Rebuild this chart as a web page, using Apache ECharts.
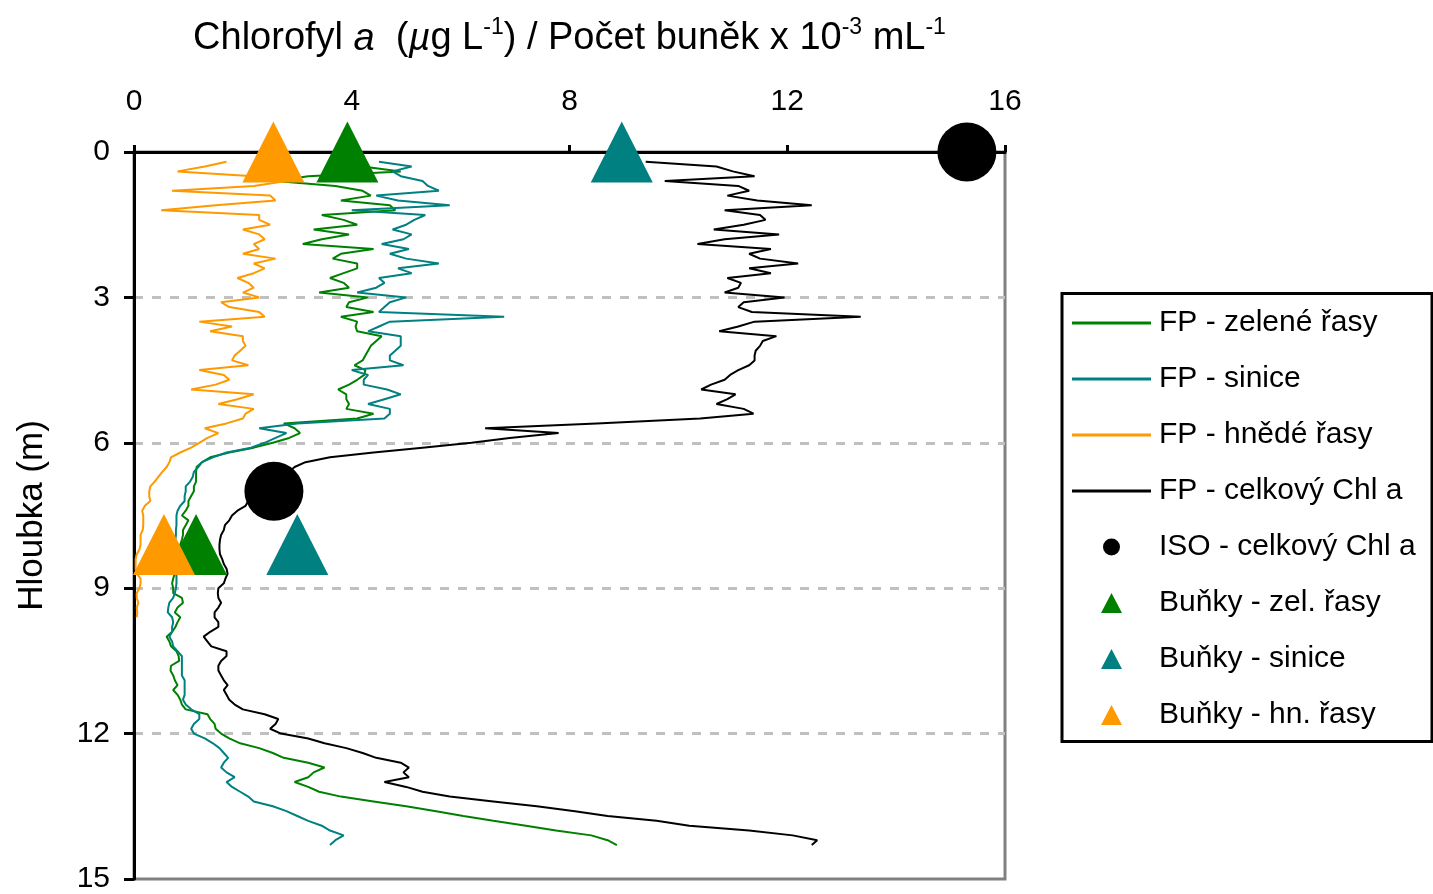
<!DOCTYPE html>
<html>
<head>
<meta charset="utf-8">
<title>Chlorofyl a – hloubkový profil</title>
<script src="https://cdn.jsdelivr.net/npm/echarts@6/dist/echarts.min.js"></script>
<style>
  html, body { margin: 0; padding: 0; background: #fff; }
  #chart { width: 1433px; height: 894px; }
</style>
</head>
<body>
<div id="chart"></div>
<script>
// Depth of each fluorescence-probe reading (m)
const depthM = [0.2,0.3,0.4,0.5,0.6,0.7,0.8,0.9,1.0,1.1,1.2,1.3,1.4,1.5,1.6,1.7,1.8,1.9,2.0,2.1,
  2.2,2.3,2.4,2.5,2.6,2.7,2.8,2.9,3.0,3.1,3.2,3.3,3.4,3.5,3.6,3.7,3.8,3.9,4.0,4.1,
  4.2,4.3,4.4,4.5,4.6,4.7,4.8,4.9,5.0,5.1,5.2,5.3,5.4,5.5,5.6,5.7,5.8,5.9,6.0,6.1,
  6.2,6.3,6.4,6.5,6.6,6.7,6.8,6.9,7.0,7.1,7.2,7.3,7.4,7.5,7.6,7.7,7.8,7.9,8.0,8.1,
  8.2,8.3,8.4,8.5,8.6,8.7,8.8,8.9,9.0,9.1,9.2,9.3,9.4,9.5,9.6,9.7,9.8,9.9,10.0,10.1,
  10.2,10.3,10.4,10.5,10.6,10.7,10.8,10.9,11.0,11.1,11.2,11.3,11.4,11.5,11.6,11.7,11.8,11.9,12.0,12.1,
  12.2,12.3,12.4,12.5,12.6,12.7,12.8,12.9,13.0,13.1,13.2,13.3,13.4,13.5,13.6,13.7,13.8,13.9,14.0,14.1,
  14.2,14.3];

// FP – green algae (µg/L), one value per depth above
const fpGreen = [4.0,4.2,4.9,3.2,2.6,3.7,4.2,4.35,3.8,4.7,
  4.8,3.45,3.85,4.1,3.3,3.95,3.45,3.1,4.4,3.8,
  3.65,4.1,4.1,3.85,3.6,3.85,3.95,3.4,4.3,3.95,
  3.9,4.4,3.8,4.1,4.07,4.1,4.55,4.45,4.35,4.3,
  4.25,4.2,4.05,4.25,4.23,4.1,3.95,3.75,3.9,3.9,
  3.95,3.9,4.4,4.1,2.75,2.95,3.05,2.85,2.55,2.2,
  1.75,1.4,1.25,1.15,1.14,1.14,1.14,1.1,1.1,1.05,
  1.0,1.0,0.95,0.88,1.0,0.95,0.9,0.9,0.88,0.85,
  0.85,0.8,0.8,0.78,0.75,0.75,0.72,0.7,0.72,0.72,
  0.88,0.9,0.8,0.75,0.85,0.8,0.76,0.7,0.6,0.65,
  0.68,0.78,0.82,0.83,0.68,0.67,0.72,0.75,0.8,0.72,
  0.8,0.85,0.88,0.95,1.35,1.4,1.48,1.5,1.6,1.75,
  1.95,2.3,2.55,2.75,3.2,3.5,3.3,3.2,2.95,3.2,
  3.4,3.8,4.4,5.0,5.55,6.05,6.6,7.2,7.75,8.4,
  8.7,8.87];

// FP – cyanobacteria (µg/L)
const fpCyano = [4.5,5.1,4.75,4.9,5.3,5.4,5.6,4.45,4.85,5.8,
  4.0,5.35,5.15,5.0,4.75,5.1,4.95,4.55,5.05,4.7,
  5.0,5.6,4.85,5.1,4.5,4.6,4.45,4.1,5.0,4.7,
  4.6,4.5,6.8,4.7,4.5,4.3,4.9,4.9,4.9,4.8,
  4.7,4.7,4.95,4.0,4.3,4.22,4.22,4.65,4.9,4.6,
  4.3,4.7,4.7,4.6,3.0,2.3,2.8,2.6,2.4,2.15,
  1.7,1.45,1.25,1.18,1.1,1.08,1.03,0.95,0.95,0.93,
  0.93,0.85,0.8,0.78,0.78,0.78,0.77,0.77,0.76,0.76,
  0.76,0.77,0.77,0.78,0.78,0.78,0.78,0.78,0.77,0.75,
  0.72,0.65,0.63,0.62,0.7,0.72,0.7,0.7,0.65,0.7,
  0.72,0.8,0.88,0.88,0.88,0.88,0.88,0.93,0.93,0.93,
  0.93,0.9,0.95,1.05,1.2,1.2,1.1,1.05,1.1,1.3,
  1.45,1.57,1.65,1.73,1.65,1.6,1.7,1.85,1.7,1.8,
  1.95,2.1,2.2,2.55,2.8,3.0,3.2,3.45,3.6,3.85,
  3.7,3.6];

// FP – brown algae / diatoms (µg/L), profile ends at 9.6 m
const fpBrown = [1.7,1.3,0.8,2.2,2.8,2.2,0.7,2.5,2.6,1.5,
  0.5,2.3,2.3,2.5,2.0,2.3,2.4,2.2,2.3,2.0,
  2.6,2.2,2.4,2.2,1.9,2.1,2.2,2.0,2.3,1.6,
  1.75,2.3,2.4,1.2,1.8,1.4,2.0,2.0,2.05,1.95,
  1.85,1.8,2.1,1.2,1.65,1.75,1.5,1.05,2.2,1.9,
  1.55,2.2,2.05,2.0,1.7,1.3,1.55,1.35,1.2,1.05,
  0.85,0.68,0.65,0.6,0.52,0.45,0.38,0.3,0.28,0.28,
  0.3,0.2,0.15,0.17,0.17,0.17,0.16,0.12,0.12,0.12,
  0.1,0.05,0.03,0.03,0.03,0.05,0.12,0.12,0.1,0.05,
  0.05,0.08,0.05,0.06,0.05];

// FP – total chlorophyll a (µg/L)
const fpTotal = [9.4,10.7,11.0,11.4,9.75,11.1,11.3,10.9,11.45,12.45,
  10.85,11.5,11.6,11.2,10.65,11.85,10.85,10.35,11.7,11.3,
  11.5,12.2,11.3,11.7,10.9,11.15,11.1,10.85,11.95,11.2,
  11.1,11.35,13.35,11.4,11.1,10.75,11.8,11.55,11.5,11.42,
  11.4,11.4,11.3,11.1,10.95,10.85,10.6,10.42,11.05,10.9,
  10.7,11.2,11.38,10.4,8.5,6.45,7.8,6.9,6.2,5.3,
  4.4,3.6,3.15,2.95,2.85,2.7,2.55,2.4,2.3,2.2,
  2.1,2.05,1.9,1.8,1.75,1.67,1.65,1.6,1.58,1.57,
  1.57,1.58,1.62,1.65,1.7,1.72,1.68,1.65,1.55,1.54,
  1.55,1.6,1.55,1.48,1.48,1.55,1.55,1.4,1.28,1.35,
  1.42,1.7,1.7,1.6,1.55,1.55,1.6,1.65,1.72,1.65,
  1.7,1.75,1.85,2.0,2.4,2.65,2.6,2.5,2.7,3.2,
  3.5,3.9,4.2,4.45,4.9,5.05,4.95,5.05,4.6,5.0,
  5.3,5.8,6.6,7.4,8.1,8.7,9.6,10.2,11.3,12.1,
  12.55,12.45];

// Discrete samples: [value, depth m]
const isoTotal    = [[15.3, 0], [2.57, 7.0]];   // ISO extraction, µg/L
const cellsGreen  = [[3.92, 0], [1.14, 8.1]];   // cells ×10^3 / mL
const cellsCyano  = [[8.96, 0], [3.0, 8.1]];
const cellsBrown  = [[2.56, 0], [0.55, 8.1]];

const xTicks = [0, 4, 8, 12, 16];
const yTicks = [0, 3, 6, 9, 12, 15];

const seriesNames = [
  'FP - zelené řasy', 'FP - sinice', 'FP - hnědé řasy', 'FP - celkový Chl a',
  'ISO - celkový Chl a', 'Buňky - zel. řasy', 'Buňky - sinice', 'Buňky - hn. řasy'
];

const GREEN = '#008000', TEAL = '#008080', ORANGE = '#FF9900', BLACK = '#000000';
const FONT = '"Liberation Sans", Arial, sans-serif';

// Legend icons: each path spans the full 79×20 icon box (zero-area corner
// anchors) so the drawn shape keeps its own size and sits centred in the box.
const ICON_FRAME = 'M0,0L0.01,0Z M79,20L78.99,20Z ';
const ICON_LINE = 'path://' + ICON_FRAME + 'M0,8.5H79V11.5H0Z';
const ICON_TRI  = 'path://' + ICON_FRAME + 'M29,20L39.5,0L50,20Z';
const ICON_DOT  = 'path://' + ICON_FRAME + 'M31,10A8.5,8.5 0 1,1 48,10A8.5,8.5 0 1,1 31,10Z';
const legendIcons = [ICON_LINE, ICON_LINE, ICON_LINE, ICON_LINE, ICON_DOT, ICON_TRI, ICON_TRI, ICON_TRI];

function profile(values) {
  return values.map((v, i) => [v, depthM[i]]);
}

function lineSeries(name, values, color) {
  return {
    name, type: 'line', data: profile(values),
    symbol: 'none', showSymbol: false,
    lineStyle: { color, width: 2 }, itemStyle: { color },
    emphasis: { disabled: true }, silent: true, z: 2
  };
}

function markerSeries(name, data, symbol, size, color) {
  return {
    name, type: 'scatter', data, symbol, symbolSize: size,
    itemStyle: { color, opacity: 1 },
    emphasis: { disabled: true }, silent: true, z: 3
  };
}

const chart = echarts.init(document.getElementById('chart'), null, { renderer: 'canvas' });

chart.setOption({
  animation: false,
  backgroundColor: '#ffffff',
  textStyle: { fontFamily: FONT },
  grid: {
    left: 134, top: 152, right: 428, bottom: 11,
    show: true, borderColor: '#808080', borderWidth: 3, backgroundColor: 'transparent'
  },
  xAxis: {
    type: 'value', position: 'top',
    min: xTicks[0], max: xTicks[xTicks.length - 1], interval: xTicks[1] - xTicks[0],
    axisLine: { show: true, onZero: false, lineStyle: { color: BLACK, width: 3 } },
    axisTick: { show: true, length: 7, lineStyle: { color: BLACK, width: 3 } },
    axisLabel: { color: BLACK, fontSize: 30, fontFamily: FONT, margin: 35 },
    splitLine: { show: false },
    name: '{t|Chlorofyl }{i|a}{t|  (}{i|µ}{t|g L}{s|-1}{t|) / Počet buněk x 10}{s|-3}{t| mL}{s|-1}',
    nameLocation: 'middle', nameGap: 90,
    nameTextStyle: {
      rich: {
        t: { fontSize: 38, fontFamily: FONT, color: BLACK, lineHeight: 46 },
        i: { fontSize: 38, fontFamily: FONT, color: BLACK, lineHeight: 46, fontStyle: 'italic' },
        s: { fontSize: 23, fontFamily: FONT, color: BLACK, lineHeight: 23, verticalAlign: 'top' }
      }
    }
  },
  yAxis: {
    type: 'value', inverse: true,
    min: yTicks[0], max: yTicks[yTicks.length - 1], interval: yTicks[1] - yTicks[0],
    axisLine: { show: true, onZero: false, lineStyle: { color: BLACK, width: 3 } },
    axisTick: { show: true, length: 10, lineStyle: { color: BLACK, width: 3 } },
    axisLabel: { color: BLACK, fontSize: 30, fontFamily: FONT, margin: 24 },
    splitLine: {
      show: true, showMinLine: false, showMaxLine: false,
      lineStyle: { color: '#C0C0C0', width: 3, type: [9, 9] }
    },
    name: 'Hloubka (m)', nameLocation: 'middle', nameRotate: 90, nameGap: 84,
    nameTextStyle: { color: BLACK, fontSize: 35, fontFamily: FONT }
  },
  legend: {
    show: true, orient: 'vertical', left: 1072, top: 308, padding: 0,
    itemWidth: 79, itemHeight: 20, itemGap: 26,
    selectedMode: false,
    data: seriesNames.map((name, i) => ({ name, icon: legendIcons[i] })),
    textStyle: { color: BLACK, fontSize: 30, lineHeight: 30, fontFamily: FONT, padding: [0, 0, 0, 3] }
  },
  graphic: [{
    type: 'rect', silent: true, z: -1,
    shape: { x: 1062, y: 293.5, width: 370, height: 448 },
    style: { fill: '#ffffff', stroke: BLACK, lineWidth: 3 }
  }],
  series: [
    lineSeries(seriesNames[0], fpGreen, GREEN),
    lineSeries(seriesNames[1], fpCyano, TEAL),
    lineSeries(seriesNames[2], fpBrown, ORANGE),
    lineSeries(seriesNames[3], fpTotal, BLACK),
    markerSeries(seriesNames[4], isoTotal, 'circle', 59, BLACK),
    markerSeries(seriesNames[5], cellsGreen, 'triangle', [62, 61], GREEN),
    markerSeries(seriesNames[6], cellsCyano, 'triangle', [62, 61], TEAL),
    markerSeries(seriesNames[7], cellsBrown, 'triangle', [62, 61], ORANGE)
  ]
});
</script>
</body>
</html>
